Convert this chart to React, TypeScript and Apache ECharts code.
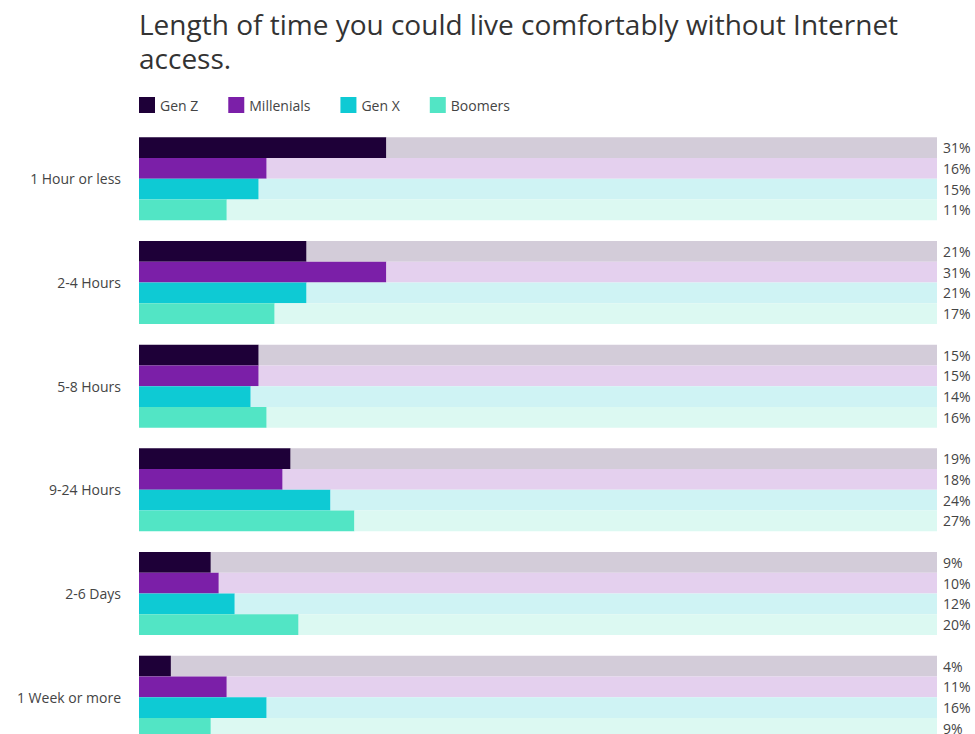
import React, { useEffect, useRef } from "react";
import * as echarts from "echarts";

const categories = ["1 Hour or less", "2-4 Hours", "5-8 Hours", "9-24 Hours", "2-6 Days", "1 Week or more"];
const seriesNames = ["Gen Z", "Millenials", "Gen X", "Boomers"];
const genZ = [31, 21, 15, 19, 9, 4];
const millenials = [16, 31, 15, 18, 10, 11];
const genX = [15, 21, 14, 24, 12, 16];
const boomers = [11, 17, 16, 27, 20, 9];
const colors = ["#1e0038", "#7b1fa8", "#0ecad4", "#52e5c5"];
const tints = ["#d3ccd9", "#e4d0ee", "#cff3f4", "#dcf9f2"];

export default function App() {
  const ref = useRef<HTMLDivElement>(null);
  useEffect(() => {
    if (!ref.current) return;
    const chart = echarts.init(ref.current, undefined, { renderer: "svg" });
    const values = [genZ, millenials, genX, boomers];
    const font = "'Open Sans', sans-serif";
    const series: any[] = [];
    values.forEach((vals, i) => {
      series.push({
        name: seriesNames[i],
        type: "bar",
        stack: "s" + i,
        data: vals,
        itemStyle: { color: colors[i] },
        barGap: 0,
        barCategoryGap: "20%",
        silent: true,
      });
      series.push({
        name: seriesNames[i] + " rest",
        type: "bar",
        stack: "s" + i,
        data: vals.map((v) => 100 - v),
        itemStyle: { color: tints[i] },
        barGap: 0,
        barCategoryGap: "20%",
        silent: true,
        label: {
          show: true,
          position: "right",
          distance: 6,
          color: "#444",
          fontSize: 14,
          fontFamily: font,
          formatter: (p: any) => vals[p.dataIndex] + "%",
        },
      });
    });
    chart.setOption({
      animation: false,
      textStyle: { fontFamily: font },
      title: {
        text: "Length of time you could live comfortably without Internet\naccess.",
        left: 134,
        top: 2,
        textStyle: { fontSize: 28, fontWeight: "normal", color: "#333", fontFamily: font, lineHeight: 34 },
      },
      legend: {
        data: seriesNames,
        left: 134,
        top: 92,
        icon: "rect",
        itemWidth: 16,
        itemHeight: 16,
        itemGap: 30,
        textStyle: { fontSize: 14, color: "#444", fontFamily: font },
        selectedMode: false,
      },
      grid: { left: 139, right: 38, top: 127, height: 622 },
      xAxis: {
        type: "value",
        min: 0,
        max: 100,
        show: false,
      },
      yAxis: {
        type: "category",
        data: categories,
        inverse: true,
        axisLine: { show: false },
        axisTick: { show: false },
        axisLabel: { fontSize: 14, color: "#444", margin: 18, fontFamily: font },
      },
      series,
    });
    return () => chart.dispose();
  }, []);
  return (
    <div
      ref={ref}
      style={{ position: "fixed", left: 0, top: 0, width: 975, height: 770, background: "#fff" }}
    />
  );
}
